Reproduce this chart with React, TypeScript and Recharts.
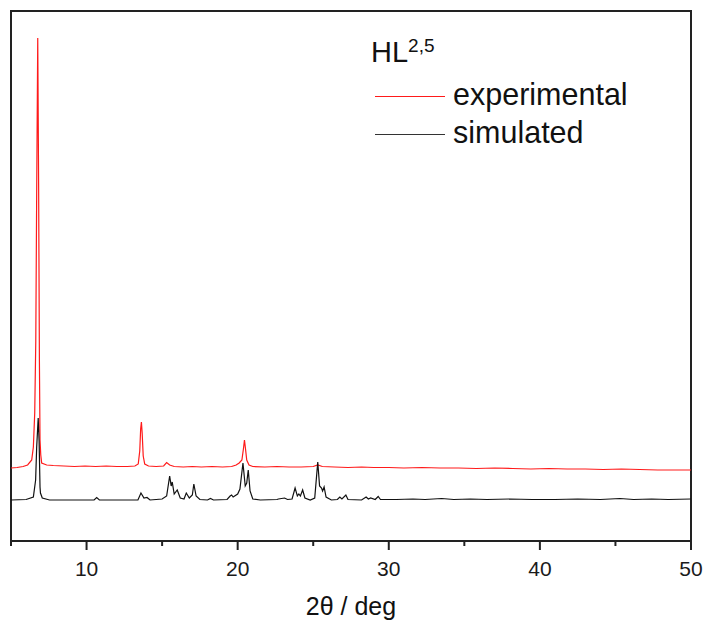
import React from "react";
import { LineChart, Line, XAxis, YAxis, ReferenceArea } from "recharts";

// powder patterns, intensity in arbitrary units (simulated drawn lower on the same scale)
const expTwoTheta = [
  5.0, 5.4, 5.8, 6.1, 6.37, 6.48, 6.57, 6.64, 6.7, 6.77, 6.83, 6.88, 6.92, 6.97, 7.03, 7.36, 7.8,
  8.5, 9.2, 9.9, 10.6, 11.3, 12.0, 12.7, 13.2, 13.42, 13.52, 13.58, 13.63, 13.68, 13.75, 13.85,
  14.1, 14.6, 15.1, 15.3, 15.5, 15.8, 16.4, 17.0, 17.6, 18.3, 19.0, 19.6, 19.9, 20.1, 20.28,
  20.38, 20.45, 20.52, 20.6, 20.75, 21.0, 21.8, 22.6, 23.4, 24.2, 25.0, 25.3, 25.6, 26.4, 27.3,
  28.2, 29.0, 30.0, 31.0, 32.2, 33.4, 34.6, 35.8, 37.0, 38.2, 39.4, 40.6, 41.8, 43.0, 44.2,
  45.4, 46.6, 47.8, 49.0, 50.0,
];
const expIntensity = [
  73, 73.5, 74.5, 76, 81, 94, 128, 200, 350, 503, 350, 180, 101, 86, 78, 76, 75.5,
  75, 74.5, 75, 74.5, 75, 74.5, 74.5, 75, 77, 90, 112, 119, 108, 85, 77,
  75, 74.5, 75, 78.5, 76, 74.5, 74, 74.5, 74, 74.5, 74, 74.5, 76, 78, 81,
  92, 101, 92, 81, 76, 74.5, 74, 74.5, 74, 74, 74.5, 76, 74.5, 74, 73.5,
  74, 73.5, 73.5, 73, 73.5, 73, 73, 72.5, 73, 72.5, 72, 72.5, 72, 72, 71.5,
  72, 71.5, 71, 71, 71,
];

const simTwoTheta = [
  5.0, 6.0, 6.48, 6.63, 6.7, 6.8, 6.86, 6.92, 6.95, 7.07, 7.55, 10.5, 10.67, 10.85, 13.4, 13.6,
  13.8, 14.0, 14.2, 15.0, 15.3, 15.5, 15.6, 15.67, 15.8, 16.0, 16.2, 16.45, 16.6, 16.8, 17.0,
  17.1, 17.25, 17.5, 18.0, 18.2, 18.4, 19.3, 19.5, 19.6, 19.7, 19.8, 20.0, 20.15, 20.35, 20.5,
  20.6, 20.7, 20.82, 21.0, 21.5, 22.6, 22.7, 23.1, 23.3, 23.6, 23.8, 23.95, 24.05, 24.15, 24.3,
  24.45, 24.8, 25.1, 25.3, 25.42, 25.55, 25.62, 25.72, 25.85, 26.2, 26.6, 26.76, 26.9, 27.16,
  27.3, 28.2, 28.5, 28.65, 28.8, 29.1, 29.3, 29.45, 30.5, 31.6, 32.4, 33.5, 34.3, 35.4, 36.5,
  38.0, 39.5, 41.0, 42.5, 44.0, 45.3, 46.2, 47.4, 48.5, 50.0,
];
const simIntensity = [
  41, 41.5, 44, 61, 94, 123, 100, 54, 48, 43, 41, 41, 43.5, 41, 41, 48,
  43, 43.5, 41, 42, 45, 65, 55, 59, 47, 51, 43, 42, 48, 43, 46,
  57, 45, 41.5, 41, 42.5, 41, 41.5, 45, 46, 44, 45, 47, 52, 78, 55,
  58, 71, 50, 42, 41, 41.5, 42, 43, 41.5, 42, 53, 45, 47, 45, 51,
  43, 41, 43, 79, 55, 53, 50, 54, 44, 41, 41.5, 44, 42, 46,
  41.5, 41, 44, 42, 43, 41.5, 44.5, 41.5, 41.5, 42, 41.5, 42.5, 41.5, 42, 41.5,
  42, 41.5, 41.5, 42, 41.5, 42.5, 41.5, 42, 41.5, 42,
];

const xTicks = [5, 10, 15, 20, 25, 30, 35, 40, 45, 50];

const experimental = expTwoTheta.map((x, i) => ({ x, y: expIntensity[i] }));
const simulated = simTwoTheta.map((x, i) => ({ x, y: simIntensity[i] }));

const FONT = '"Liberation Sans", Arial, sans-serif';
const FRAME = "#222";

function BottomTick(props: any) {
  const { x, y, payload } = props;
  const major = payload.value % 10 === 0;
  return (
    <g>
      <line x1={x} y1={y} x2={x} y2={y + (major ? 9 : 5)} stroke={FRAME} strokeWidth={2} />
      {major && (
        <text x={x} y={y + 35} textAnchor="middle" fontSize={21} fontFamily={FONT} fill="#1a1a1a">
          {payload.value}
        </text>
      )}
    </g>
  );
}

function AxisTitle(props: any) {
  const { x, y, width } = props.viewBox;
  return (
    <text x={x + width / 2} y={y + 74} textAnchor="middle" fontSize={25} fontFamily={FONT} fill="#111">
      2θ / deg
    </text>
  );
}

export default function App() {
  return (
    <div style={{ position: "absolute", left: 0, top: 0, width: 705, height: 625, background: "#fff" }}>
      <LineChart width={705} height={625} margin={{ top: 11, right: 14, bottom: 24, left: 11 }}>
        <XAxis
          dataKey="x"
          type="number"
          domain={[5, 50]}
          ticks={xTicks}
          interval={0}
          allowDataOverflow
          height={60}
          tickSize={0}
          tickMargin={0}
          tickLine={false}
          tick={<BottomTick />}
          axisLine={false}
          label={<AxisTitle />}
        />
        <YAxis type="number" domain={[0, 530]} width={0} hide />
        <Line
          data={experimental}
          dataKey="y"
          name="experimental"
          type="linear"
          stroke="#ff1a1a"
          strokeWidth={1.2}
          dot={false}
          isAnimationActive={false}
        />
        <Line
          data={simulated}
          dataKey="y"
          name="simulated"
          type="linear"
          stroke="#111"
          strokeWidth={1.2}
          dot={false}
          isAnimationActive={false}
        />
        {/* plot frame */}
        <ReferenceArea
          x1={5}
          x2={50}
          y1={0}
          y2={530}
          fill="none"
          fillOpacity={0}
          stroke={FRAME}
          strokeWidth={2}
          ifOverflow="visible"
        />
      </LineChart>

      {/* legend block */}
      <svg width={705} height={160} style={{ position: "absolute", left: 0, top: 0, pointerEvents: "none" }}>
        <text x={371} y={62} fontSize={29} fontFamily={FONT} fill="#111">
          HL
          <tspan fontSize={19} dy={-10}>2,5</tspan>
        </text>
        <line x1={375} y1={96.5} x2={445} y2={96.5} stroke="#ff1a1a" strokeWidth={1.2} />
        <text x={453} y={105} fontSize={30.5} fontFamily={FONT} fill="#111">experimental</text>
        <line x1={375} y1={134.5} x2={445} y2={134.5} stroke="#333" strokeWidth={1.2} />
        <text x={453} y={143} fontSize={30.5} fontFamily={FONT} fill="#111">simulated</text>
      </svg>
    </div>
  );
}
